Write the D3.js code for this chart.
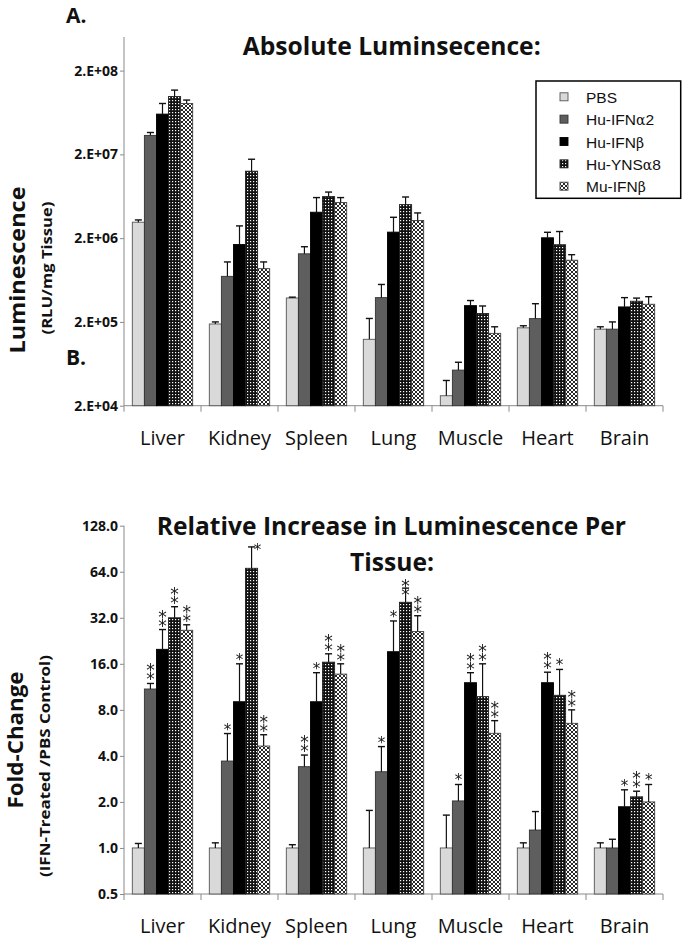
<!DOCTYPE html>
<html>
<head>
<meta charset="utf-8">
<script src="https://cdn.jsdelivr.net/npm/d3@7"></script>
<style>
  html, body { margin: 0; padding: 0; background: #fff; }
  svg { display: block; }
  .stars { filter: grayscale(100%); }
</style>
</head>
<body>
<svg id="chart" width="688" height="943"></svg>
<script>
// ---------------- DATA ----------------
const categories = ["Liver", "Kidney", "Spleen", "Lung", "Muscle", "Heart", "Brain"];
const seriesNames = ["PBS", "Hu-IFNα2", "Hu-IFNβ", "Hu-YNSα8", "Mu-IFNβ"];

// Panel A: absolute luminescence (RLU/mg tissue), mean and upper error bound
const absPBS   = [3.1e6, 1.89e5, 3.86e5, 1.24e5, 2.63e4, 1.70e5, 1.64e5];
const absA2    = [3.37e7, 7.0e5, 1.30e6, 3.9e5, 5.32e4, 2.19e5, 1.64e5];
const absB     = [6.05e7, 1.68e6, 4.08e6, 2.36e6, 3.13e5, 2.02e6, 3.02e5];
const absYNS   = [9.8e7, 1.26e7, 6.27e6, 5.03e6, 2.52e5, 1.67e6, 3.53e5];
const absMu    = [8.09e7, 8.65e5, 5.32e6, 3.25e6, 1.46e5, 1.09e6, 3.25e5];
const absPBSHi = [3.3e6, 2.0e5, 3.95e5, 2.2e5, 4.0e4, 1.8e5, 1.75e5];
const absA2Hi  = [3.65e7, 1.04e6, 1.58e6, 5.6e5, 6.6e4, 3.3e5, 2.0e5];
const absBHi   = [8.1e7, 2.8e6, 6.1e6, 3.55e6, 3.6e5, 2.35e6, 3.9e5];
const absYNSHi = [1.17e8, 1.75e7, 7.1e6, 6.2e6, 3.1e5, 2.4e6, 3.85e5];
const absMuHi  = [8.9e7, 1.04e6, 6.1e6, 4.0e6, 1.75e5, 1.27e6, 4.0e5];
const absTicks = [2e4, 2e5, 2e6, 2e7, 2e8];

// Panel B: fold change vs PBS, mean, upper error bound and significance stars
const foldPBS   = [1.0, 1.0, 1.0, 1.0, 1.0, 1.0, 1.0];
const foldA2    = [10.95, 3.70, 3.40, 3.15, 2.03, 1.31, 1.0];
const foldB     = [19.9, 9.04, 9.04, 19.2, 12.04, 12.04, 1.86];
const foldYNS   = [32.0, 67.4, 16.4, 40.4, 9.76, 9.96, 2.16];
const foldMu    = [26.5, 4.64, 13.7, 26.0, 5.62, 6.53, 2.0];
const foldPBSHi = [1.07, 1.08, 1.05, 1.76, 1.64, 1.08, 1.08];
const foldA2Hi  = [11.9, 5.6, 4.05, 4.6, 2.6, 1.73, 1.14];
const foldBHi   = [26.8, 16.0, 14.0, 30.5, 14.0, 14.1, 2.4];
const foldYNSHi = [37.8, 93.0, 18.6, 50.0, 16.0, 14.7, 2.35];
const foldMuHi  = [28.8, 5.5, 16.0, 33.0, 6.8, 8.0, 2.6];
const sigPBS = [0, 0, 0, 0, 0, 0, 0];
const sigA2  = [2, 1, 2, 1, 1, 0, 0];
const sigB   = [2, 1, 1, 1, 2, 2, 1];
const sigYNS = [2, 1, 2, 2, 2, 1, 2];
const sigMu  = [2, 2, 2, 2, 2, 2, 1];
const foldTicks = [0.5, 1, 2, 4, 8, 16, 32, 64, 128];

// ---------------- SETUP ----------------
const svg = d3.select("#chart");
const FONT = "'Open Sans', 'Liberation Sans', sans-serif";
const AXIS_COLOR = "#8a8a8a";

const defs = svg.append("defs");
// Hu-YNSα8 : dense black with white dots
const p1 = defs.append("pattern").attr("id", "patYNS").attr("patternUnits", "userSpaceOnUse")
  .attr("width", 3).attr("height", 3);
p1.append("rect").attr("width", 3).attr("height", 3).attr("fill", "#111");
p1.append("rect").attr("x", 1).attr("y", 1).attr("width", 1.2).attr("height", 1.2).attr("fill", "#fff");
// Mu-IFNβ : white with black crosshatch
const p2 = defs.append("pattern").attr("id", "patMu").attr("patternUnits", "userSpaceOnUse")
  .attr("width", 4).attr("height", 4);
p2.append("rect").attr("width", 4).attr("height", 4).attr("fill", "#fff");
p2.append("path").attr("d", "M0,0 L4,4 M4,0 L0,4").attr("stroke", "#111").attr("stroke-width", 0.9);

const fills   = ["#d9d9d9", "#5e5e5e", "#000000", "url(#patYNS)", "url(#patMu)"];
const strokes = ["#555555", "#333333", "#000000", "#222222", "#444444"];

const x = d3.scaleBand().domain(categories).range([124, 663]).padding(0);
const xs = d3.scaleBand().domain(seriesNames)
  .range([x.bandwidth() * 0.108, x.bandwidth() * 0.892]).padding(0);

// ---------------- TEXT helper ----------------
function txt(xp, yp, s, size, weight, opts = {}) {
  const t = svg.append("text").attr("x", xp).attr("y", yp)
    .attr("font-family", FONT).attr("font-size", size).attr("font-weight", weight)
    .attr("fill", "#111").attr("text-anchor", opts.anchor || "start").text(s);
  if (opts.len) t.attr("textLength", opts.len).attr("lengthAdjust", "spacingAndGlyphs");
  if (opts.rot) t.attr("transform", `rotate(-90,${xp},${yp})`);
  return t;
}

// titles first so stars can avoid them
txt(66, 23, "A.", 21, "bold");
txt(66, 365, "B.", 21, "bold");
txt(391.7, 55, "Absolute Luminsecence:", 25, "bold", { anchor: "middle", len: 298 });
const titleB1 = txt(391.3, 535, "Relative Increase in Luminescence Per", 25, "bold", { anchor: "middle", len: 469 });
const titleB2 = txt(392, 570.7, "Tissue:", 25, "bold", { anchor: "middle", len: 84 });
const avoidBoxes = [titleB1.node().getBBox(), titleB2.node().getBBox()];

txt(25, 270, "Luminescence", 21, "bold", { anchor: "middle", rot: true, len: 167 });
txt(52, 268, "(RLU/mg Tissue)", 13.5, "bold", { anchor: "middle", rot: true, len: 133 });
txt(23, 740, "Fold-Change", 21, "bold", { anchor: "middle", rot: true, len: 137 });
txt(50, 766, "(IFN-Treated /PBS Control)", 13.5, "bold", { anchor: "middle", rot: true, len: 222 });

function drawPanel(cfg) {
  const g = svg.append("g");
  const y = cfg.y;
  const [y0, y1] = y.range();

  // y axis
  const ax = g.append("g").attr("transform", "translate(124,0)")
    .call(d3.axisLeft(y).tickValues(cfg.ticks).tickFormat(cfg.fmt).tickSize(4).tickSizeOuter(0));
  ax.select(".domain").attr("stroke", AXIS_COLOR).attr("d", `M0,${y0}V${y1}`);
  ax.selectAll(".tick line").attr("stroke", AXIS_COLOR);
  ax.selectAll(".tick text").attr("font-family", FONT).attr("font-weight", "bold")
    .attr("font-size", 14).attr("fill", "#111").attr("x", -6);

  // x axis baseline with boundary ticks
  g.append("line").attr("x1", x.range()[0]).attr("x2", x.range()[1])
    .attr("y1", y0).attr("y2", y0).attr("stroke", AXIS_COLOR);
  const bounds = categories.map(c => x(c)).concat([x.range()[1]]);
  g.selectAll(".btick").data(bounds).join("line")
    .attr("x1", d => d).attr("x2", d => d).attr("y1", y0).attr("y2", y0 + 6)
    .attr("stroke", AXIS_COLOR);
  g.selectAll(".cat").data(categories).join("text")
    .attr("x", d => x(d) + x.bandwidth() / 2).attr("y", y0 + cfg.labelDy)
    .attr("text-anchor", "middle").attr("font-family", FONT).attr("font-size", 20)
    .attr("fill", "#111").text(d => d);

  // bars
  const rows = [];
  seriesNames.forEach((s, si) => {
    categories.forEach((c, ci) => {
      rows.push({ s, si, c, v: cfg.vals[si][ci], hi: cfg.his[si][ci],
                  sig: cfg.sigs ? cfg.sigs[si][ci] : 0 });
    });
  });
  const bw = xs.bandwidth();
  g.selectAll(".bar").data(rows).join("rect")
    .attr("x", d => x(d.c) + xs(d.s))
    .attr("y", d => y(d.v))
    .attr("width", bw)
    .attr("height", d => y0 - y(d.v))
    .attr("fill", d => fills[d.si])
    .attr("stroke", d => strokes[d.si]).attr("stroke-width", 0.9);

  // error bars
  const eb = g.selectAll(".err").data(rows).join("g");
  eb.append("line")
    .attr("x1", d => x(d.c) + xs(d.s) + bw / 2).attr("x2", d => x(d.c) + xs(d.s) + bw / 2)
    .attr("y1", d => y(d.v)).attr("y2", d => y(d.hi))
    .attr("stroke", "#111").attr("stroke-width", 1.2);
  eb.append("line")
    .attr("x1", d => x(d.c) + xs(d.s) + bw / 2 - 3.5).attr("x2", d => x(d.c) + xs(d.s) + bw / 2 + 3.5)
    .attr("y1", d => y(d.hi)).attr("y2", d => y(d.hi))
    .attr("stroke", "#111").attr("stroke-width", 1.4);

  // significance stars: "*" or "⁑" (two asterisks aligned vertically), avoiding the title
  if (cfg.sigs) {
    const sg = g.append("g").attr("class", "stars");
    rows.filter(d => d.sig > 0).forEach(d => {
      const fs = d.sig === 2 ? 17 : 15;
      let cx = x(d.c) + xs(d.s) + bw / 2;
      let base = y(d.hi) + (d.sig === 2 ? -3 : 1);
      const h = d.sig === 2 ? 17 : 12;
      avoidBoxes.forEach(b => {
        if (cx + 4 > b.x && cx - 4 < b.x + b.width && base - h < b.y + b.height && base > b.y) {
          base = b.y + b.height + h + 1;
          if (d.sig === 1) cx += 6;
        }
      });
      sg.append("text").attr("x", cx).attr("y", base).attr("text-anchor", "middle")
        .attr("font-family", "'DejaVu Sans', 'Liberation Sans', sans-serif")
        .attr("font-size", fs).attr("fill", "#1a1a1a")
        .text(d.sig === 2 ? "⁑" : "*");
    });
  }
}

// ---------------- PANEL A ----------------
const yA = d3.scaleLog().domain([2e4, 2e8 * Math.pow(10, 33.7 / 84)]).range([405.7, 37]);
drawPanel({
  y: yA, ticks: absTicks,
  fmt: d => "2.E+0" + Math.round(Math.log10(d / 2)),
  vals: [absPBS, absA2, absB, absYNS, absMu],
  his: [absPBSHi, absA2Hi, absBHi, absYNSHi, absMuHi],
  sigs: null, labelDy: 39
});

// ---------------- PANEL B ----------------
const yB = d3.scaleLog().base(2).domain([0.5, 128]).range([894, 525.7]);
drawPanel({
  y: yB, ticks: foldTicks,
  fmt: d => d.toFixed(1),
  vals: [foldPBS, foldA2, foldB, foldYNS, foldMu],
  his: [foldPBSHi, foldA2Hi, foldBHi, foldYNSHi, foldMuHi],
  sigs: [sigPBS, sigA2, sigB, sigYNS, sigMu], labelDy: 39
});

// ---------------- LEGEND ----------------
const lg = svg.append("g");
lg.append("rect").attr("x", 536).attr("y", 81).attr("width", 144.7).attr("height", 117.3)
  .attr("fill", "#fff").attr("stroke", "#000").attr("stroke-width", 1.5);
const legendLabels = [
  ["PBS", ""], ["Hu-IFN", "α", "2"], ["Hu-IFN", "β"], ["Hu-YNS", "α", "8"], ["Mu-IFN", "β"]
];
seriesNames.forEach((s, i) => {
  const cy = 97.3 + i * 22.35;
  lg.append("rect").attr("x", 560).attr("y", cy - 4.5).attr("width", 8).attr("height", 8)
    .attr("fill", fills[i]).attr("stroke", strokes[i]).attr("stroke-width", 0.9);
  const t = lg.append("text").attr("x", 586).attr("y", cy + 5.5)
    .attr("font-family", "'Liberation Sans', Arial, sans-serif").attr("font-size", 15.5).attr("fill", "#111");
  const parts = legendLabels[i];
  t.append("tspan").text(parts[0]);
  if (parts[1]) t.append("tspan").attr("font-family", "'DejaVu Serif', 'Liberation Serif', serif")
    .attr("font-size", 14).text(parts[1]);
  if (parts[2]) t.append("tspan").text(parts[2]);
});
</script>
</body>
</html>
